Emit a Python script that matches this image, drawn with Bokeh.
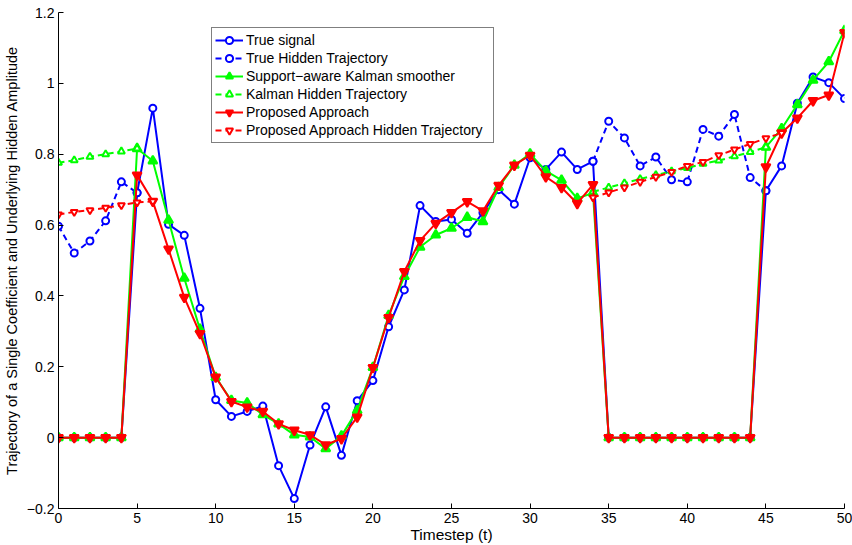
import numpy as np
from bokeh.plotting import figure
from bokeh.models import Legend, LegendItem, FixedTicker
from bokeh.embed import file_html
from bokeh.resources import INLINE

nan = float("nan")

t = list(range(51))

true_signal = [0, 0, 0, 0, 0,
               0.691, 0.930, 0.602, 0.571, 0.365, 0.107, 0.060, 0.074, 0.089, -0.079,
               -0.172, -0.021, 0.087, -0.050, 0.104, 0.161, 0.313, 0.417, 0.655, 0.610,
               0.616, 0.577, 0.635, 0.700, 0.659, 0.790, 0.757, 0.806, 0.757, 0.780,
               0, 0, 0, 0, 0, 0, 0, 0, 0, 0,
               0.697, 0.767, 0.944, 1.018, 1.002, 0.957]

true_hidden = ([0.597, 0.521, 0.555, 0.612, 0.722, 0.691] + [nan] * 28 +
               [0.780, 0.893, 0.846, 0.767, 0.792, 0.728, 0.722, 0.870, 0.851, 0.912, 0.734, 0.697] +
               [nan] * 5)

kalman_signal = [0, 0, 0, 0, 0,
                 0.816, 0.781, 0.614, 0.450, 0.306, 0.170, 0.105, 0.098, 0.065, 0.039,
                 0.008, 0.002, -0.031, 0.005, 0.077, 0.198, 0.345, 0.455, 0.538, 0.572,
                 0.591, 0.622, 0.610, 0.706, 0.769, 0.801, 0.753, 0.727, 0.675, 0.691,
                 0, 0, 0, 0, 0, 0, 0, 0, 0, 0,
                 0.820, 0.872, 0.940, 1.009, 1.061, 1.149]

kalman_hidden = ([0.776, 0.783, 0.793, 0.800, 0.808, 0.816] + [nan] * 28 +
                 [0.694, 0.706, 0.718, 0.730, 0.741, 0.752, 0.761, 0.773, 0.782, 0.794, 0.806, 0.820] +
                 [nan] * 5)

proposed_signal = [0, 0, 0, 0, 0,
                   0.741, 0.667, 0.532, 0.396, 0.294, 0.171, 0.102, 0.086, 0.074, 0.039,
                   0.021, 0.008, -0.020, -0.003, 0.058, 0.198, 0.339, 0.469, 0.556, 0.605,
                   0.635, 0.666, 0.640, 0.712, 0.769, 0.797, 0.736, 0.706, 0.661, 0.714,
                   0, 0, 0, 0, 0, 0, 0, 0, 0, 0,
                   0.764, 0.860, 0.902, 0.951, 0.967, 1.143]

proposed_hidden = ([0.630, 0.637, 0.642, 0.649, 0.656, 0.664, 0.667] + [nan] * 27 +
                   [0.678, 0.692, 0.706, 0.722, 0.736, 0.750, 0.767, 0.778, 0.797, 0.813, 0.829, 0.845, 0.860] +
                   [nan] * 4)

labels = ["True signal", "True Hidden Trajectory", "Support\u2212aware Kalman smoother",
          "Kalman Hidden Trajectory", "Proposed Approach", "Proposed Approach Hidden Trajectory"]

x_ticks = [0, 5, 10, 15, 20, 25, 30, 35, 40, 45, 50]
y_ticks = [-0.2, 0, 0.2, 0.4, 0.6, 0.8, 1.0, 1.2]
y_tick_labels = ["\u22120.2", "0", "0.2", "0.4", "0.6", "0.8", "1", "1.2"]

FONT = "Liberation Sans"

p = figure(width=852, height=545, output_backend="svg", toolbar_location=None,
           x_range=(0, 50), y_range=(-0.2, 1.2),
           min_border_left=58, min_border_right=8, min_border_top=12, min_border_bottom=35)
p.xgrid.visible = False
p.ygrid.visible = False
p.outline_line_color = None
p.background_fill_color = "white"
p.border_fill_color = "white"

for ax in (p.xaxis[0], p.yaxis[0]):
    ax.axis_line_color = "black"
    ax.axis_line_width = 1
    ax.major_tick_in = 5
    ax.major_tick_out = 0
    ax.major_tick_line_color = "black"
    ax.minor_tick_line_color = None
    ax.major_label_text_font = FONT
    ax.major_label_text_font_size = "14px"
    ax.major_label_text_color = "black"
    ax.axis_label_text_font = FONT
    ax.axis_label_text_font_style = "normal"
    ax.axis_label_text_color = "black"

p.xaxis.ticker = FixedTicker(ticks=x_ticks)
p.yaxis.ticker = FixedTicker(ticks=y_ticks)
p.yaxis.major_label_overrides = {v: s for v, s in zip(y_ticks, y_tick_labels)}
p.xaxis.axis_label = "Timestep (t)"
p.yaxis.axis_label = "Trajectory of a Single Coefficient and Underlying Hidden Amplitude"
p.xaxis.axis_label_text_font_size = "15.5px"
p.yaxis.axis_label_text_font_size = "14.5px"
p.xaxis.major_label_standoff = 4
p.xaxis.axis_label_standoff = 0
p.yaxis.major_label_standoff = 4
p.yaxis.axis_label_standoff = 4

BLUE, GREEN, RED = "#0000FF", "#00FF00", "#FF0000"
DASH = "6 4"

series = [
    (true_signal, BLUE, "solid", "circle", "white", 7),
    (true_hidden, BLUE, DASH, "circle", "white", 7),
    (kalman_signal, GREEN, "solid", "triangle", GREEN, 9),
    (kalman_hidden, GREEN, DASH, "triangle", "white", 7),
    (proposed_signal, RED, "solid", "inverted_triangle", RED, 9),
    (proposed_hidden, RED, DASH, "inverted_triangle", "white", 7),
]

items = []
for (vals, col, dash, mk, fill, sz), lab in zip(series, labels):
    lr = p.line(t, vals, line_color=col, line_width=2, line_dash=dash)
    sr = p.scatter(t, vals, marker=mk, size=sz, line_color=col, line_width=2,
                   fill_color=fill)
    items.append(LegendItem(label=lab, renderers=[lr, sr]))

legend = Legend(items=items, location=(153, 365))
legend.label_text_font = FONT
legend.label_text_font_size = "14px"
legend.label_text_color = "black"
legend.glyph_width = 28
legend.glyph_height = 18
legend.label_height = 18
legend.label_width = 244
legend.label_standoff = 3
legend.spacing = 0
legend.padding = 3
legend.margin = 0
legend.border_line_color = "black"
legend.border_line_width = 1
legend.background_fill_color = "white"
legend.background_fill_alpha = 1
p.add_layout(legend, "center")

open("out.html", "w").write(file_html(p, INLINE))
